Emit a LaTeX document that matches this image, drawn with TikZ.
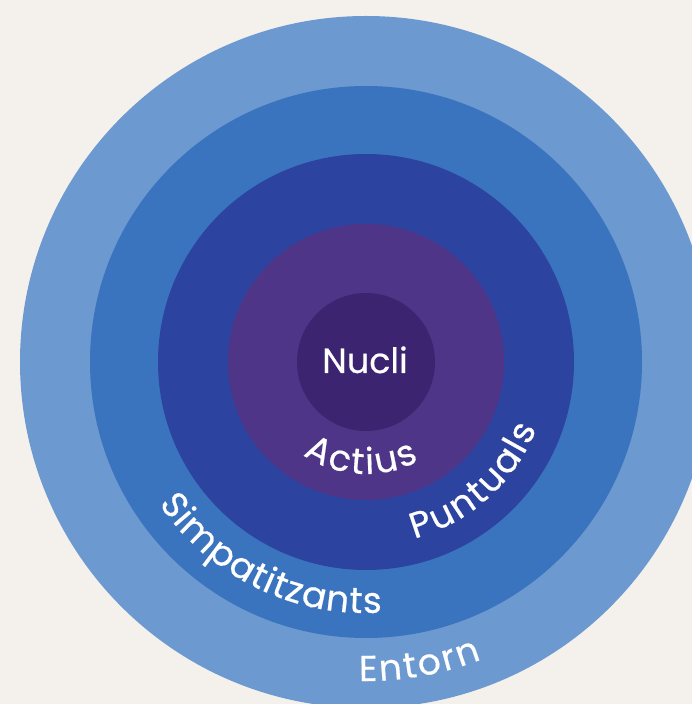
\documentclass[tikz,border=0pt]{standalone}
\usepackage{fontspec}
\setmainfont{Poppins}[FakeBold=0.5]
\usetikzlibrary{decorations.text}

\definecolor{paper}{HTML}{F4F1EC}
\definecolor{ringE}{HTML}{6C99D0}
\definecolor{ringS}{HTML}{3B74BE}
\definecolor{ringP}{HTML}{2D43A0}
\definecolor{ringA}{HTML}{4E3588}
\definecolor{ringN}{HTML}{3C2470}

\newcommand{\lblfont}{\fontsize{36}{42}\selectfont}

\tikzset{
  disc/.style={circle, draw=none, inner sep=0pt, minimum size=#1},
  % #1 = label text, #2 = extra space on each side of every letter
  arclabel/.style 2 args={decorate, decoration={text effects along path,
      text={#1}, text align=center,
      text effects/.cd,
        text along path,
        character widths={font=\lblfont, inner xsep=#2, inner ysep=0pt},
        characters={text=white, font=\lblfont, anchor=base, inner sep=0pt}}},
}

\begin{document}
\begin{tikzpicture}[x=1pt, y=1pt]
  \useasboundingbox (0,0) rectangle (692,704);
  \fill[paper] (0,0) rectangle (692,704);
  \clip (0,0) rectangle (692,704);
  \coordinate (c) at (366,342);

  % concentric rings, outermost first
  \node[disc=692, fill=ringE] (entorn) at (c) {};
  \node[disc=552, fill=ringS] (simp) at (c) {};
  \node[disc=416, fill=ringP] (punt) at (c) {};
  \node[disc=276, fill=ringA] (actius) at (c) {};
  \node[disc=138, fill=ringN] (nucli) at (c) {};

  \node[text=white, font=\fontsize{35}{40}\selectfont, anchor=base] (nuclilbl) at (365,331) {Nucli};

  % labels bent along the lower part of each ring
  \path[arclabel={Actius}{1.2pt}]
    ([shift={(207:112)}]c) arc[start angle=207, end angle=327, radius=112];
  \path[arclabel={Puntuals}{1.1pt}]
    ([shift={(252:183)}]c) arc[start angle=252, end angle=372, radius=183];
  \path[arclabel={Simpatitzants}{0.55pt}]
    ([shift={(184:251)}]c) arc[start angle=184, end angle=304, radius=251];
  \path[arclabel={Entorn}{1.1pt}]
    ([shift={(240:319)}]c) arc[start angle=240, end angle=320, radius=319];
\end{tikzpicture}
\end{document}
